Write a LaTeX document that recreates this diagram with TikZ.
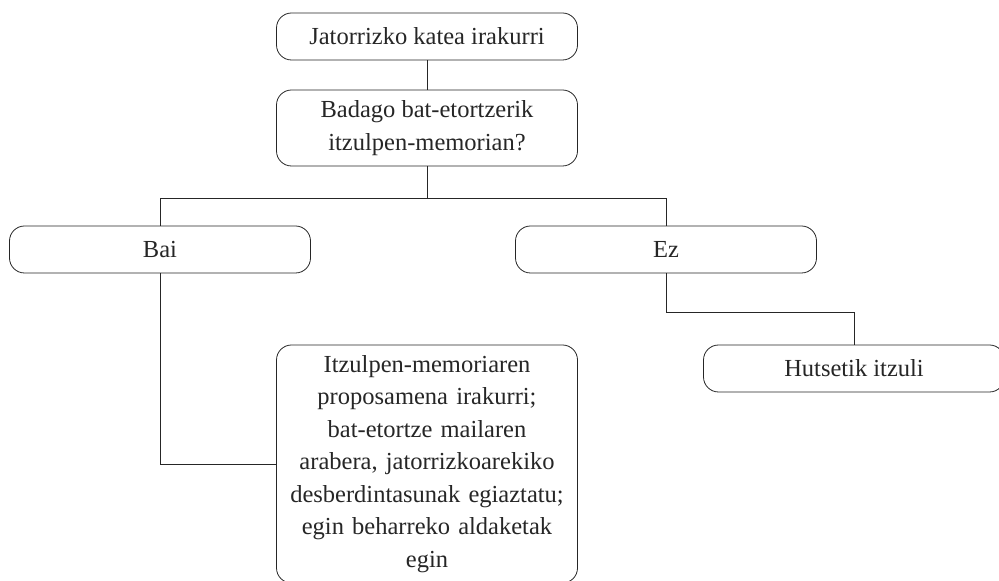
\documentclass[tikz,border=0pt]{standalone}
\usepackage{fontspec}
\setmainfont{Liberation Serif}
\usepackage{tikz}
\begin{document}
\begin{tikzpicture}[x=1pt,y=1pt,
  box/.style={draw=black!85, line width=0.8pt, rounded corners=15pt, minimum width=301pt, inner sep=0pt, align=center, font=\fontsize{24.5}{32.5}\selectfont, text=black!85},
  conn/.style={draw=black!85, line width=0.8pt}]
\useasboundingbox (0,0) rectangle (999,581);
\node[box, minimum height=47pt] (b1) at (427,544.5) {Jatorrizko katea irakurri};
\node[box, minimum height=76pt] (b2) at (427,453) {Badago bat-etortzerik\\itzulpen-memorian?};
\node[box, minimum height=47pt] (bai) at (160,331.5) {Bai};
\node[box, minimum height=47pt] (ez) at (666,331.5) {Ez};
\node[box, minimum height=238pt, text width=300pt] (big) at (427,117) {Itzulpen-memoriaren\\proposamena irakurri;\\bat-etortze mailaren\\arabera, jatorrizkoarekiko\\desberdintasunak egiaztatu;\\egin beharreko aldaketak\\egin};
\node[box, minimum height=47pt] (hut) at (854,212.5) {Hutsetik itzuli};
\coordinate (barc) at (0,383);
\coordinate (elb) at (0,269);
\draw[conn] (b1) -- (b2);
\draw[conn] (b2.south) -- (b2.south |- barc);
\draw[conn] (bai.north) -- (bai.north |- barc) -- (ez.north |- barc) -- (ez.north);
\draw[conn] (bai.south) |- (big.west);
\draw[conn] (ez.south) -- (ez.south |- elb) -- (hut.north |- elb) -- (hut.north);
\end{tikzpicture}
\end{document}
